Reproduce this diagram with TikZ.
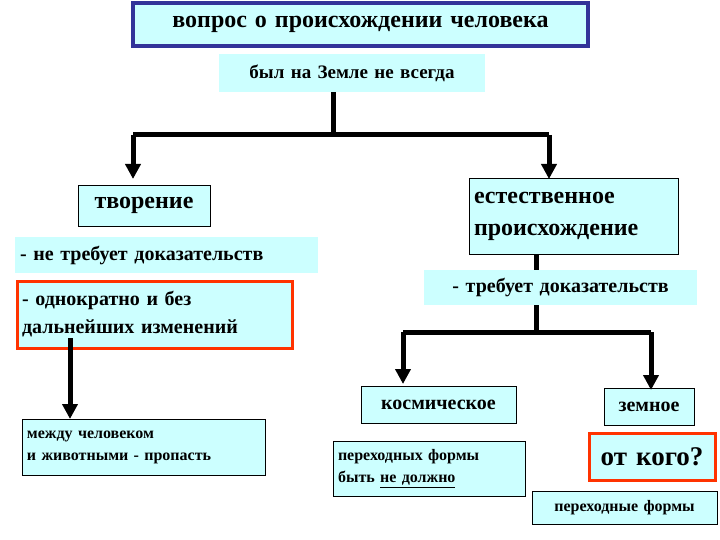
\documentclass[tikz,border=0pt]{standalone}
\usepackage{fontspec}
\setmainfont{Liberation Serif}[BoldFont={Liberation Serif Bold}]
\newfontfamily\serb{Liberation Serif Bold}
\usetikzlibrary{arrows.meta}
\definecolor{cy}{HTML}{CCFFFF}
\definecolor{rd}{HTML}{FF3300}
\definecolor{bl}{HTML}{333399}
\begin{document}
\begin{tikzpicture}[x=1pt,y=-1pt,
  base/.style={fill=cy,inner sep=0pt},
  thinbox/.style={base,draw=black,line width=0.8pt},
  redbox/.style={base,draw=rd,line width=3pt},
  plain/.style={base},
  conn/.style={line width=5pt},
  arr/.style={line width=5pt,-{Triangle[width=15pt,length=15pt]}}]
\useasboundingbox[fill=white] (0,0) rectangle (720,540);
\newcommand{\bx}[9]{\node[#1,minimum width=#4-#2,minimum height=#5-#3,text width=#4-#2-10,align=#6,font={\serb\fontsize{#8}{#9}\selectfont}] (#7) at ({(#2+#4)/2},{(#3+#5)/2})}
\bx{base,draw=bl,line width=3.5pt}{133}{3}{588}{46}{center}{title}{24}{28} {вопрос о происхождении человека};
\bx{plain}{219}{54}{485}{92}{center}{byl}{19}{22} {был на Земле не всегда};
\bx{thinbox}{78}{185}{210}{226}{center}{tvor}{24}{28} {творение};
\bx{thinbox}{469}{178}{678}{254}{left}{est}{24}{32} {естественное\\происхождение};
\bx{plain}{15}{237}{318}{273}{left}{net}{20}{24} {- не требует доказательств};
\bx{plain}{424}{270}{697}{305}{center}{treb}{20}{24} {- требует доказательств};
\bx{redbox}{17}{281}{292}{348}{left}{odn}{20}{28} {- однократно и без\\дальнейших изменений};
\bx{thinbox}{22}{419}{265}{475}{left}{mezh}{16}{22} {между человеком\\и животными - пропасть};
\bx{thinbox}{361}{386}{516}{423}{center}{kosm}{20}{24} {космическое};
\bx{thinbox}{604}{388}{694}{425}{center}{zemn}{20}{24} {земное};
\bx{thinbox}{333}{441}{525}{496}{left}{perf}{16}{22} {переходных формы\\быть \underline{не должно}};
\bx{redbox}{589}{433}{715}{480}{center}{otk}{27}{30} {от кого?};
\bx{thinbox}{532}{491}{717}{524}{center}{perp}{16}{20} {переходные формы};
\coordinate (j1) at (333,135);
\coordinate (a1) at (133,179);
\coordinate (a2) at (549,179);
\draw[conn] (byl.south -| j1) -- (j1);
\draw[arr] (a1 |- j1) -- (a1);
\draw[arr] (a2 |- j1) -- (a2);
\draw[conn] (a1 |- j1) -- (a2 |- j1);
\coordinate (j2) at (536,332);
\coordinate (b1) at (403,384);
\coordinate (b2) at (651,390);
\draw[conn] (est.south -| j2) -- (treb.north -| j2);
\draw[conn] (treb.south -| j2) -- (j2);
\draw[conn] (b1 |- j2) -- (b2 |- j2);
\draw[arr] (b1 |- j2) -- (b1);
\draw[arr] (b2 |- j2) -- (b2);
\coordinate (c1) at (70,338);
\coordinate (c2) at (70,419);
\draw[arr] (c1) -- (c2);
\end{tikzpicture}
\end{document}
